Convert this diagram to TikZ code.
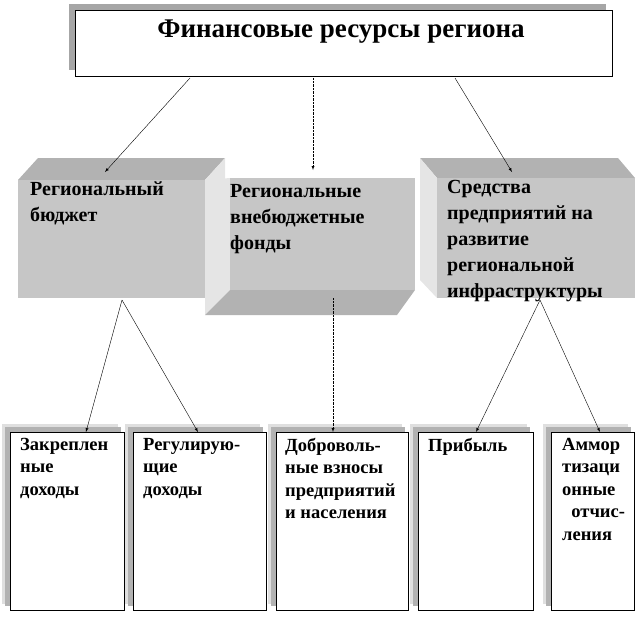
\documentclass[tikz,border=0pt]{standalone}
\usepackage{fontspec}
\setmainfont{Liberation Serif}
\begin{document}
\begin{tikzpicture}[x=1pt,y=-1pt,
  lbl/.style={font=\bfseries\fontsize{20}{26}\selectfont, align=left, anchor=north west, inner sep=0pt},
  sm/.style={font=\bfseries\fontsize{18.5}{22.5}\selectfont, align=left, anchor=north west, inner sep=0pt},
  arr/.style={-latex, thin}]
\useasboundingbox (0,0) rectangle (638,626);
% top box
\fill[gray!70] (69,4) rectangle (606,70);
\draw[fill=white] (75,10) rectangle (612,76);
\node[font=\bfseries\fontsize{27}{30}\selectfont] (top) at (341,32) {Финансовые ресурсы региона};
\coordinate (t1) at (190,78); \coordinate (t2) at (313,78); \coordinate (t3) at (455,78);
% middle left
\fill[gray!60] (18,180) -- (38,158) -- (225,158) -- (205,180) -- cycle;
\fill[gray!20] (205,180) -- (225,158) -- (225,280) -- (205,298) -- cycle;
\fill[gray!45] (18,180) rectangle (205,298);
\node[lbl] (b1) at (30,182) {Региональный\\бюджет};
% middle center
\fill[gray!20] (205,180) -- (230,178) -- (230,290) -- (205,315) -- cycle;
\fill[gray!60] (205,315) -- (230,290) -- (415,290) -- (397,315) -- cycle;
\fill[gray!45] (230,178) rectangle (415,290);
\node[lbl] (b2) at (230,184) {Региональные\\внебюджетные\\фонды};
% middle right
\fill[gray!60] (420,158) -- (618,158) -- (635,178) -- (437,178) -- cycle;
\fill[gray!20] (420,158) -- (437,178) -- (437,298) -- (420,280) -- cycle;
\fill[gray!45] (437,178) rectangle (635,298);
\node[lbl] (b3) at (447,180) {Средства\\предприятий на\\развитие\\региональной\\инфраструктуры};
\coordinate (m1) at (122,300); \coordinate (m2) at (333,298); \coordinate (m3) at (540,300);
% bottom boxes
\foreach \a/\b/\n in {10/124/1,133/266/2,276/408/3,418/533/4,551/634/5}{
  \fill[gray!25] (\a-8,424) rectangle (\b-6,604);
  \fill[gray!60] (\a-5,427) rectangle (\b-3,606);
  \draw[fill=white] (\a,432) rectangle (\b,610);
  \coordinate (c\n) at ({\a+ (\b-\a)*0.5},432);
}
\node[sm] (d1) at (20,438) {Закреплен\\ные\\доходы};
\node[sm] (d2) at (143,438) {Регулирую-\\щие\\доходы};
\node[sm] (d3) at (285,438) {Доброволь-\\ные взносы\\предприятий\\и населения};
\node[sm] (d4) at (428,438) {Прибыль};
\node[sm] (d5) at (562,438) {Аммор\\тизаци\\онные\\\ \ отчис-\\ления};
% arrows
\draw[arr] (t1) -- (105,172);
\draw[arr, densely dotted] (t2) -- (313,170);
\draw[arr] (t3) -- (512,172);
\draw[arr] (m1) -- (86,432);
\draw[arr] (m1) -- (198,432);
\draw[arr, densely dotted] (m2) -- (333,432);
\draw[arr] (m3) -- (476,432);
\draw[arr] (m3) -- (600,432);
\end{tikzpicture}
\end{document}
